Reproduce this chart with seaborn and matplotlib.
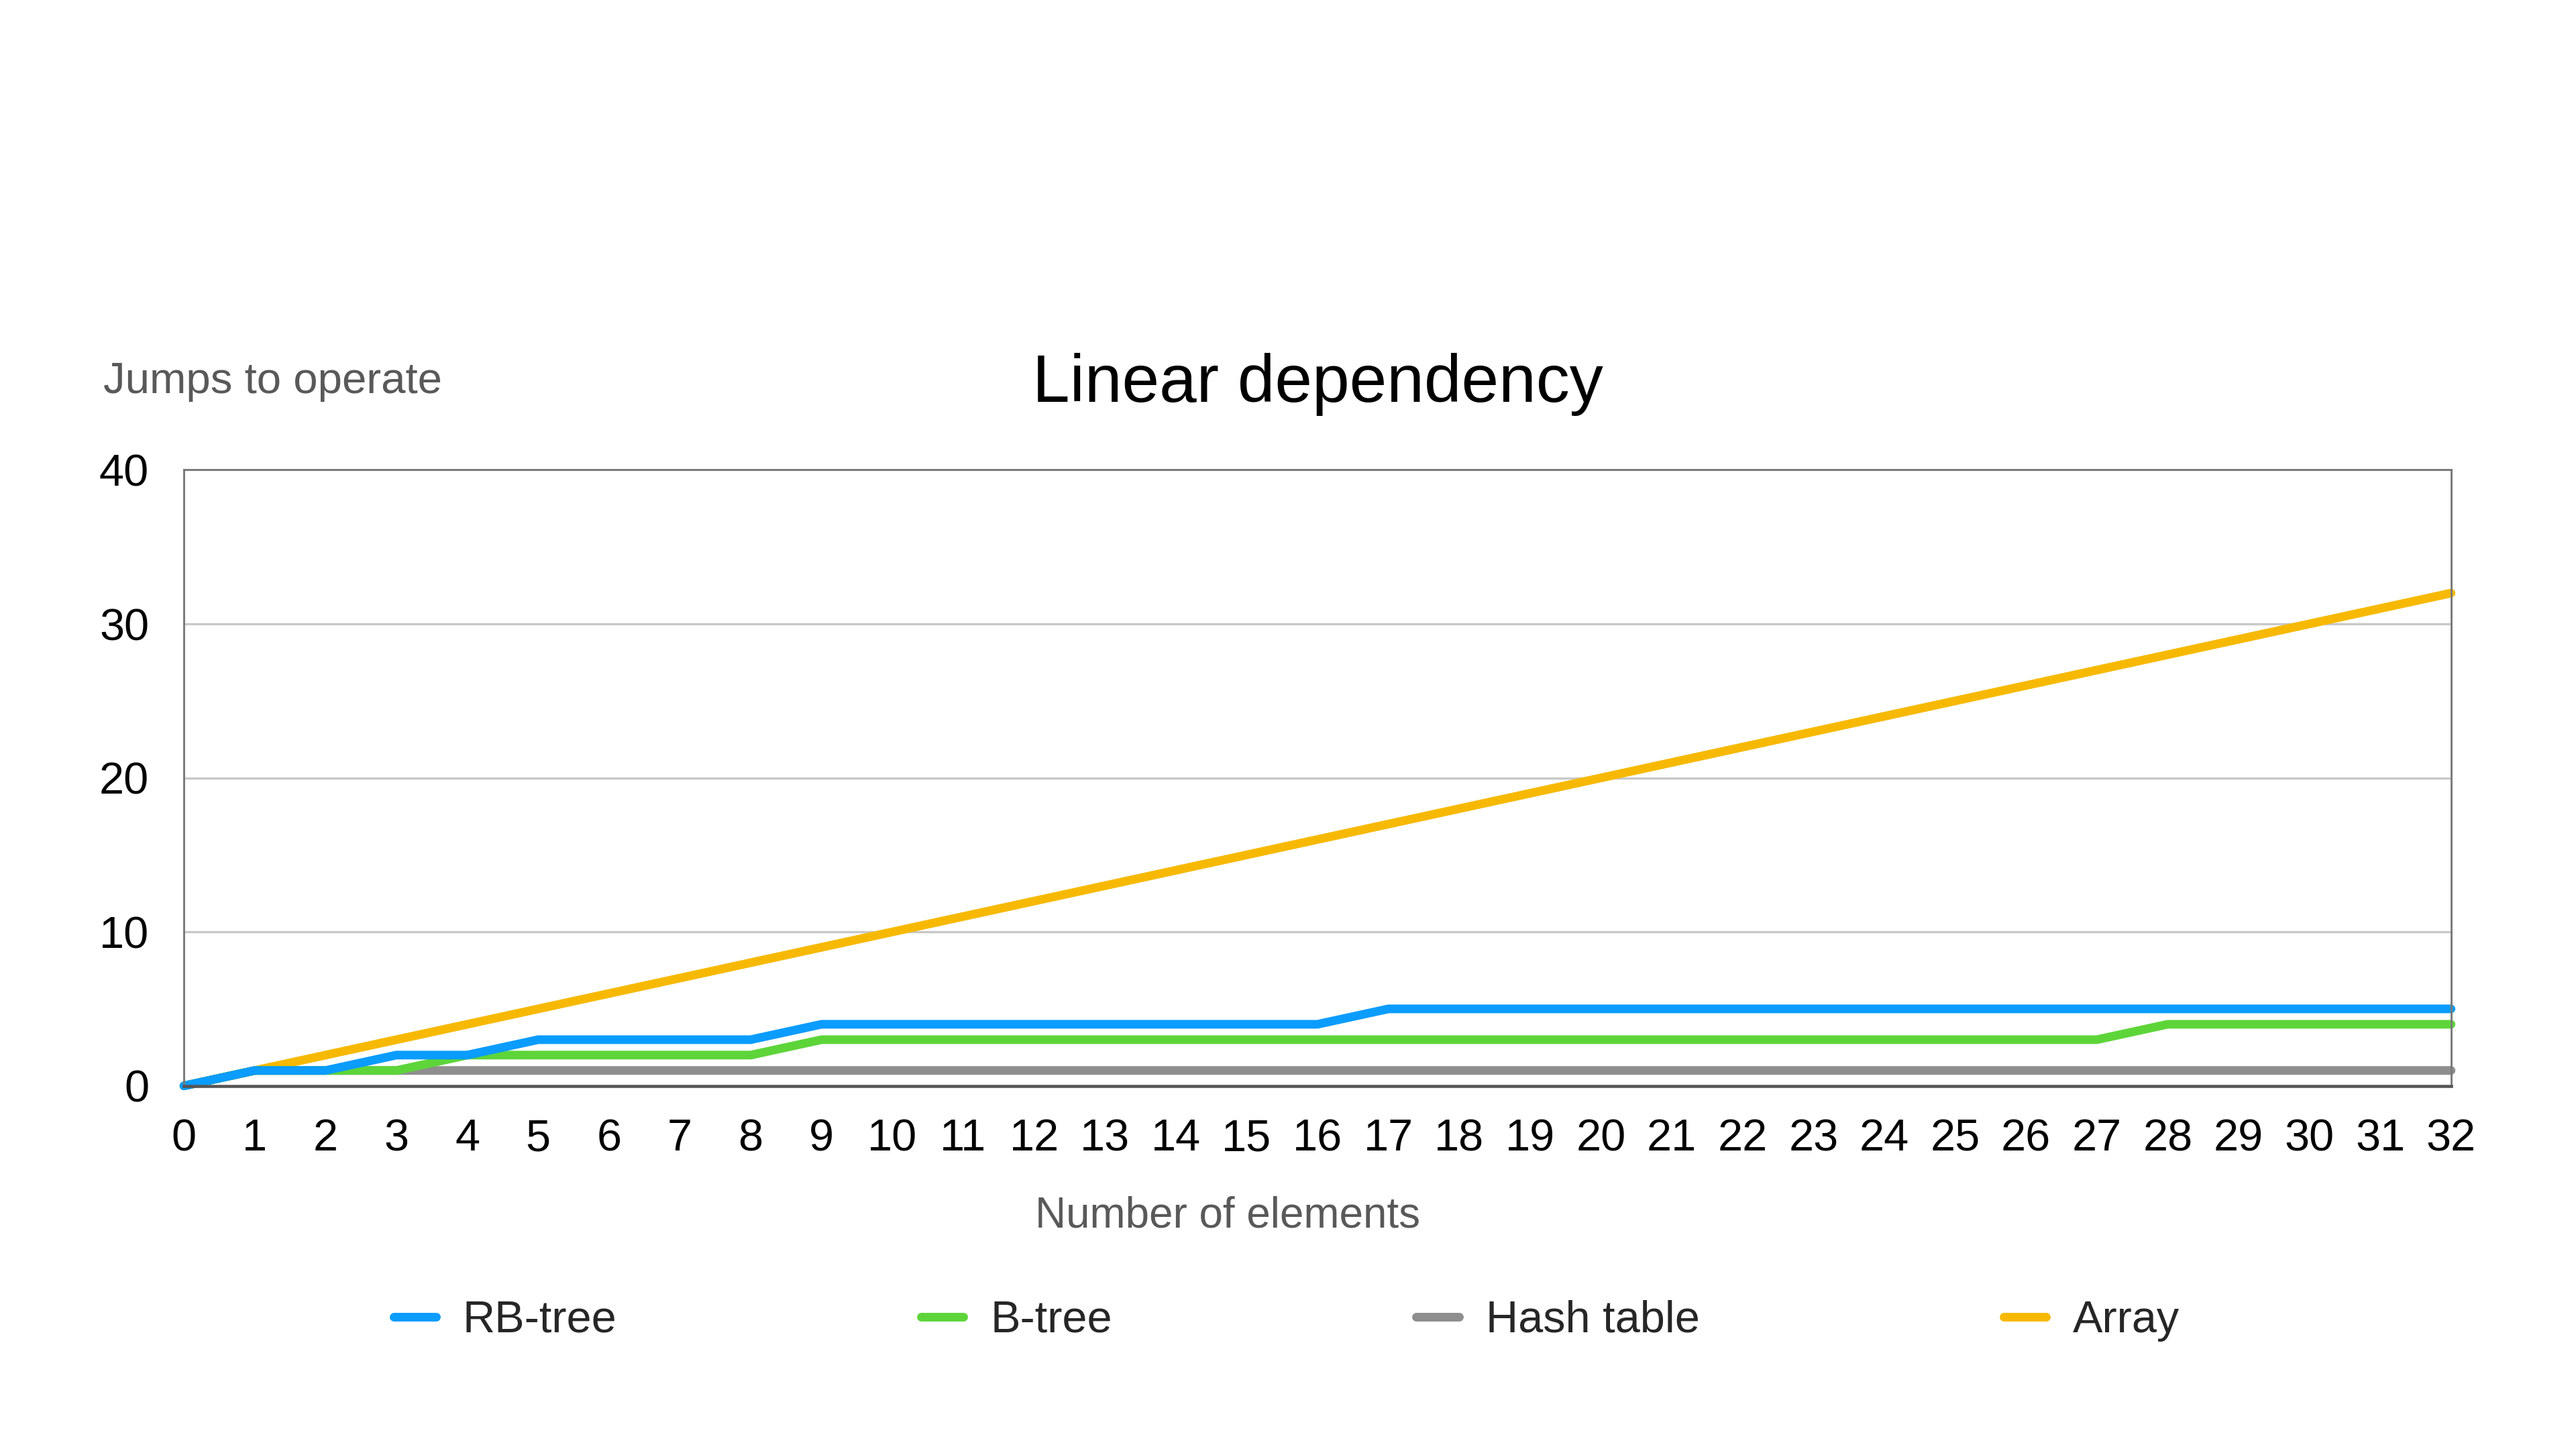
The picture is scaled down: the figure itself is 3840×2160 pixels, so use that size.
import matplotlib.pyplot as plt
import matplotlib.ticker as mticker
import pandas as pd
import seaborn as sns

# data
n_elements = list(range(0, 33))
rb_tree = [0, 1, 1, 2, 2, 3, 3, 3, 3] + [4] * 8 + [5] * 16
b_tree = [0, 1, 1, 1] + [2] * 5 + [3] * 19 + [4] * 5
hash_table = [0] + [1] * 32
array = list(range(0, 33))

series_names = ["RB-tree", "B-tree", "Hash table", "Array"]
series_values = [rb_tree, b_tree, hash_table, array]
COLORS = {
    "RB-tree": "#0A9CFE",
    "B-tree": "#5DD539",
    "Hash table": "#8E8E8E",
    "Array": "#F7B900",
}
y_ticks = [0, 10, 20, 30, 40]

LINE_ARGS = {"linewidth": 3.1, "clip_on": False}


def plot_dependency(path):
    sns.set_style("white")
    plt.rcParams["font.family"] = ["Liberation Sans", "DejaVu Sans"]

    fig = plt.figure(figsize=(12.8, 7.2), dpi=300)
    ax = fig.add_axes([0.0714, 0.2506, 0.8801, 0.4251])

    # draw bottom-most series first so RB-tree ends on top
    handles = {}
    for name, values in reversed(list(zip(series_names, series_values))):
        df = pd.DataFrame({"x": n_elements, "y": values})
        sns.lineplot(data=df, x="x", y="y", ax=ax, color=COLORS[name],
                     label=name, legend=False, **LINE_ARGS)
        handles[name] = ax.lines[-1]

    # axes limits and ticks
    ax.set(xlim=(0, 32), ylim=(0, 40))
    ax.xaxis.set_major_locator(mticker.FixedLocator(n_elements))
    ax.yaxis.set_major_locator(mticker.FixedLocator(y_ticks))
    ax.tick_params(axis="both", length=0, labelsize=16, colors="black")
    ax.tick_params(axis="y", pad=12.5)
    ax.tick_params(axis="x", pad=11.6)
    ax.set_xlabel("")
    ax.set_ylabel("")

    # grid and frame
    ax.grid(axis="y", color="#C8C8C8", linewidth=0.8)
    ax.grid(axis="x", visible=False)
    for side in ["top", "left", "right"]:
        ax.spines[side].set_color("#7A7A7A")
        ax.spines[side].set_linewidth(0.7)
    ax.spines["bottom"].set_color("#555555")
    ax.spines["bottom"].set_linewidth(1.1)

    # texts
    fig.text(0.5115, 0.7227, "Linear dependency", ha="center", va="baseline",
             fontsize=24, color="black")
    fig.text(0.0402, 0.7287, "Jumps to operate", ha="left", va="baseline",
             fontsize=15.7, color="#595959")
    fig.text(0.4765, 0.1528, "Number of elements", ha="center", va="baseline",
             fontsize=15.3, color="#595959")

    # legend
    fig.legend([handles[n] for n in series_names], series_names,
               loc="center", bbox_to_anchor=(0.4995, 0.0885), ncol=4,
               frameon=False, fontsize=16, handlelength=0.95,
               handletextpad=0.6, columnspacing=6.8)

    fig.savefig(path, dpi=300)


if __name__ == "__main__":
    plot_dependency("out.png")
